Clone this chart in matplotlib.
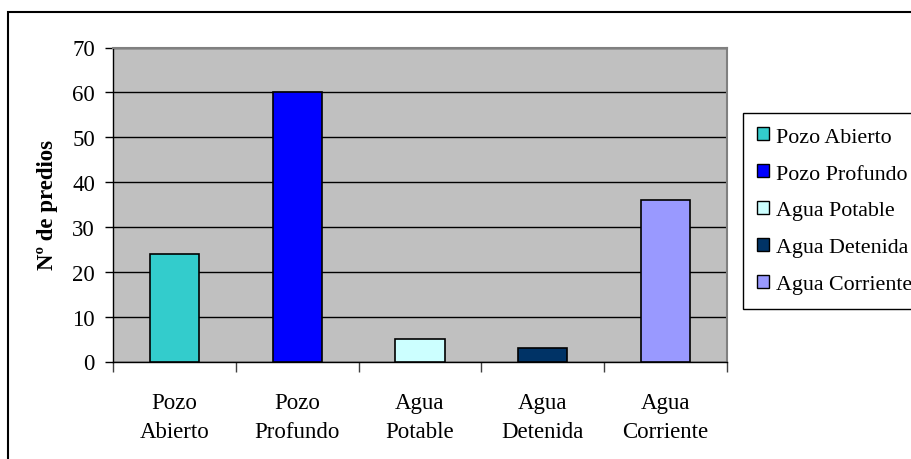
import matplotlib
matplotlib.use("Agg")
import matplotlib.pyplot as plt
from matplotlib.patches import Patch, Rectangle
from matplotlib.transforms import blended_transform_factory

categories = ["Pozo Abierto", "Pozo Profundo", "Agua Potable", "Agua Detenida", "Agua Corriente"]
tick_labels = ["Pozo\nAbierto", "Pozo\nProfundo", "Agua\nPotable", "Agua\nDetenida", "Agua\nCorriente"]
values = [24, 60, 5, 3, 36]
colors = ["#33CCCC", "#0000FF", "#CCFFFF", "#003366", "#9999FF"]
y_ticks = [0, 10, 20, 30, 40, 50, 60, 70]

W, H = 912, 460
fig = plt.figure(figsize=(W / 100, H / 100), dpi=100)
fig.patch.set_facecolor("white")

serif = ["Liberation Serif", "DejaVu Serif"]
FS = 16.5
LEG_FS = 15.8

# chart outline
fig.patches.append(Rectangle((8 / W, -0.1), 1.2, 1 - 12.5 / H + 0.1,
                             transform=fig.transFigure, fill=False,
                             edgecolor="black", linewidth=1.5, zorder=0))

left, right, top, bottom = 113, 727, 48.5, 362.5
ax = fig.add_axes([left / W, 1 - bottom / H, (right - left) / W, (bottom - top) / H])
ax.set_facecolor("#C0C0C0")

x = list(range(len(categories)))
ax.bar(x, values, width=0.4, color=colors, edgecolor="black", linewidth=1.2, zorder=3)

ax.set_xlim(-0.5, len(categories) - 0.5)
ax.set_ylim(0, 70)
ax.set_yticks(y_ticks)
ax.set_yticklabels([str(v) for v in y_ticks], fontfamily=serif, fontsize=FS)
ax.yaxis.grid(True, color="black", linewidth=1.0, zorder=1)
ax.set_axisbelow(True)

ax.set_xticks([i - 0.5 for i in range(len(categories) + 1)])
ax.set_xticklabels([])
ax.tick_params(axis="x", direction="out", length=7, width=1, color="#404040")
ax.tick_params(axis="y", direction="out", length=6, width=1, color="black", pad=7)
trans = blended_transform_factory(ax.transData, ax.transAxes)
for i, lab in enumerate(tick_labels):
    ax.text(i, -31 / (bottom - top), lab, ha="center", va="top", fontfamily=serif,
            fontsize=FS, linespacing=1.5, transform=trans)

for side in ("top", "right"):
    ax.spines[side].set_color("#808080")
    ax.spines[side].set_linewidth(1.5)
for side in ("left", "bottom"):
    ax.spines[side].set_color("black")
    ax.spines[side].set_linewidth(1.0)

ax.set_ylabel("Nº de predios", fontfamily=serif, fontsize=FS, fontweight="bold")
ax.yaxis.set_label_coords(-(113 - 58) / (right - left), 0.5)

handles = [Patch(facecolor=c, edgecolor="black", linewidth=1.0, label=n)
           for c, n in zip(colors, categories)]
leg = fig.legend(handles=handles, loc="upper left",
                 bbox_to_anchor=(743 / W, 1 - 114 / H), bbox_transform=fig.transFigure,
                 prop={"family": serif, "size": LEG_FS}, frameon=True, fancybox=False,
                 framealpha=1, edgecolor="black", handlelength=0.55, handleheight=0.55,
                 handletextpad=0.3, labelspacing=0.8, borderpad=0.65, borderaxespad=0)
leg.get_frame().set_linewidth(1.0)

fig.savefig("out.png", dpi=100)
